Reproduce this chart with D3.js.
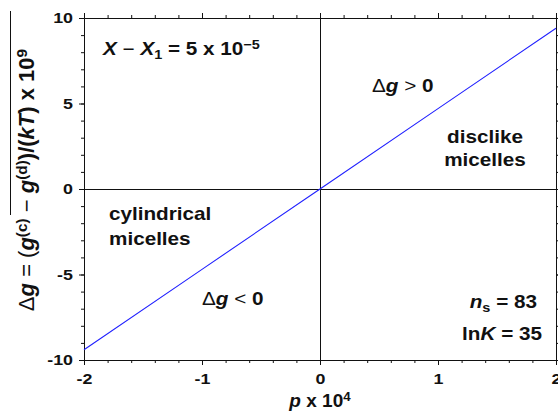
<!DOCTYPE html>
<html>
<head>
<meta charset="utf-8">
<script src="https://cdn.jsdelivr.net/npm/d3@7"></script>
<style>
  body { margin: 0; background: #fff; }
  svg { display: block; font-family: 'Liberation Sans', Arial, sans-serif; }
  .lbl { font-weight: bold; fill: #111; }
</style>
</head>
<body>
<div id="chart"></div>
<script>
// data
const pValues = [-2, -1, 0, 1, 2]
const deltaG = [-9.4, -4.7, 0, 4.7, 9.4]
const xTicks = [-2, -1, 0, 1, 2]
const yTicks = [-10, -5, 0, 5, 10]
const xMinorTicks = d3.range(-2, 2.001, 0.2).map(d => +d.toFixed(1))
const yMinorTicks = d3.range(-10, 11, 1)

const W = 558
const H = 418
const margin = { top: 18, right: 2, bottom: 58, left: 84 }
const width = W - margin.left - margin.right
const height = H - margin.top - margin.bottom

// glyphs in the original look a little wider than the font
const SX = 1.15

const svg = d3.select('#chart').append('svg')
  .attr('width', W)
  .attr('height', H)

const g = svg.append('g')
  .attr('transform', `translate(${margin.left},${margin.top})`)

const x = d3.scaleLinear().domain([-2, 2]).range([0, width])
const y = d3.scaleLinear().domain([-10, 10]).range([height, 0])

// zero lines
g.append('line')
  .attr('x1', x(0) + 0.5).attr('x2', x(0) + 0.5).attr('y1', 0).attr('y2', height)
  .attr('stroke', '#111').attr('stroke-width', 1)
g.append('line')
  .attr('x1', 0).attr('x2', width).attr('y1', y(0) + 0.5).attr('y2', y(0) + 0.5)
  .attr('stroke', '#111').attr('stroke-width', 1)

// axes: major + minor ticks on all four sides, pointing outwards
function styleAxis (sel) {
  sel.select('.domain').attr('stroke', '#111')
  sel.selectAll('.tick line').attr('stroke', '#111')
}

function styleLabels (sel) {
  sel.selectAll('text')
    .attr('class', 'lbl')
    .style('font-size', '15.5px')
    .attr('transform', `scale(${SX},1)`)
}

const noLabel = () => ''
const plain = d => String(d) // hyphen minus like the original

g.append('g').attr('transform', `translate(0,${height})`)
  .call(d3.axisBottom(x).tickValues(xMinorTicks).tickSize(3).tickFormat(noLabel).tickSizeOuter(0))
  .call(styleAxis)
g.append('g').attr('transform', `translate(0,${height})`)
  .call(d3.axisBottom(x).tickValues(xTicks).tickSize(5).tickPadding(8).tickFormat(plain).tickSizeOuter(0))
  .call(styleAxis)
  .call(styleLabels)

g.append('g')
  .call(d3.axisTop(x).tickValues(xMinorTicks).tickSize(3).tickFormat(noLabel).tickSizeOuter(0))
  .call(styleAxis)
g.append('g')
  .call(d3.axisTop(x).tickValues(xTicks).tickSize(5).tickFormat(noLabel).tickSizeOuter(0))
  .call(styleAxis)

g.append('g')
  .call(d3.axisLeft(y).tickValues(yMinorTicks).tickSize(3).tickFormat(noLabel).tickSizeOuter(0))
  .call(styleAxis)
g.append('g')
  .call(d3.axisLeft(y).tickValues(yTicks).tickSize(5).tickPadding(4.6).tickFormat(plain).tickSizeOuter(0))
  .call(styleAxis)
  .call(styleLabels)

g.append('g').attr('transform', `translate(${width},0)`)
  .call(d3.axisRight(y).tickValues(yMinorTicks).tickSize(3).tickFormat(noLabel).tickSizeOuter(0))
  .call(styleAxis)
g.append('g').attr('transform', `translate(${width},0)`)
  .call(d3.axisRight(y).tickValues(yTicks).tickSize(5).tickFormat(noLabel).tickSizeOuter(0))
  .call(styleAxis)

// the line
const line = d3.line().x((d, i) => x(pValues[i])).y(d => y(d))
g.append('path')
  .datum(deltaG)
  .attr('d', line)
  .attr('fill', 'none')
  .attr('stroke', '#2020ff')
  .attr('stroke-width', 1.1)

// helper for rich text
function rich (parent, px, py, parts, size, anchor, sx) {
  const t = parent.append('g')
    .attr('transform', `translate(${px},${py}) scale(${sx || 1},1)`)
    .append('text')
    .attr('text-anchor', anchor || 'start')
    .style('font-size', size + 'px')
    .attr('fill', '#111')
  parts.forEach(p => {
    const s = t.append('tspan').text(p.t)
    s.attr('font-weight', p.w || 'bold')
    if (p.i) s.attr('font-style', 'italic')
    if (p.sup) s.attr('baseline-shift', p.sup).style('font-size', (size * 0.7) + 'px')
  })
  return t
}

// annotations inside the plot
rich(svg, 103, 55, [
  { t: 'X', i: true }, { t: ' \u2212 ', w: 'normal' }, { t: 'X', i: true },
  { t: '1', sup: '-30%' }, { t: ' = 5 x 10' }, { t: '\u22125', sup: '45%' }
], 18, 'start', SX)

rich(svg, 372, 92, [
  { t: '\u0394', w: 'normal' }, { t: 'g', i: true }, { t: ' > ', w: 'normal' }, { t: '0' }
], 18, 'start', SX)

rich(svg, 202, 305, [
  { t: '\u0394', w: 'normal' }, { t: 'g', i: true }, { t: ' < ', w: 'normal' }, { t: '0' }
], 18, 'start', SX)

rich(svg, 485, 143, [{ t: 'disclike' }], 18, 'middle', SX)
rich(svg, 485, 166, [{ t: 'micelles' }], 18, 'middle', SX)

rich(svg, 109, 220, [{ t: 'cylindrical' }], 18, 'start', SX)
rich(svg, 109, 245, [{ t: 'micelles' }], 18, 'start', SX)

rich(svg, 537, 308, [
  { t: 'n', i: true }, { t: 's', sup: '-30%' }, { t: ' = 83' }
], 18, 'end', SX)
rich(svg, 542, 340, [
  { t: 'ln' }, { t: 'K', i: true }, { t: ' = 35' }
], 18, 'end', SX)

// axis titles
rich(svg, margin.left + x(0), 407, [
  { t: 'p', i: true }, { t: ' x 10' }, { t: '4', sup: '45%' }
], 19, 'middle')

const yl = svg.append('g').attr('transform', 'translate(34,180) rotate(-90)')
rich(yl, 0, 0, [
  { t: '\u0394', w: 'normal' }, { t: 'g', i: true }, { t: ' = (', w: 'normal' },
  { t: 'g', i: true }, { t: '(c)', sup: '45%' }, { t: ' \u2212 ', w: 'normal' },
  { t: 'g', i: true }, { t: '(d)', sup: '45%' }, { t: ')/(' },
  { t: 'kT', i: true }, { t: ') x 10' }, { t: '9', sup: '45%' }
], 22, 'middle')
// stray overline visible in the original figure
svg.append('line')
  .attr('x1', 10.5).attr('x2', 10.5).attr('y1', 11).attr('y2', 215)
  .attr('stroke', '#111').attr('stroke-width', 1)
</script>
</body>
</html>
